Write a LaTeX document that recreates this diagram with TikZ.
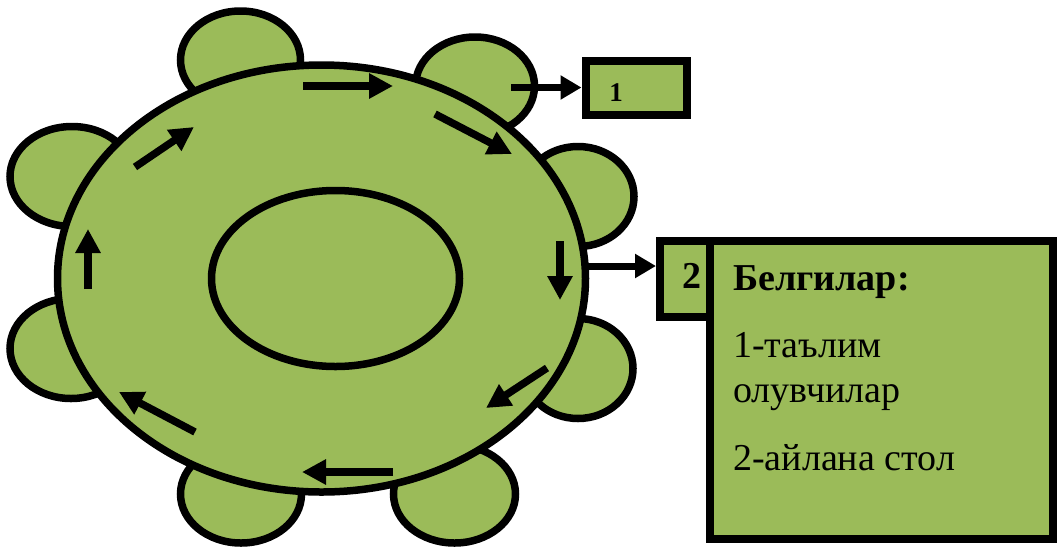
\documentclass[tikz,border=0pt]{standalone}
\usepackage{fontspec}
\setmainfont{Liberation Serif}
\usetikzlibrary{arrows.meta,shapes.geometric}
\definecolor{tgreen}{RGB}{155,187,89}
\begin{document}
\begin{tikzpicture}[x=1pt,y=-1pt,
  seat/.style={ellipse,draw=black,fill=tgreen,line width=7.5pt,inner sep=0pt},
  flow/.style={line width=7.5pt,-{Triangle[length=24pt,width=24pt]}},
  conn/.style={line width=7pt,-{Triangle[length=21pt,width=23pt]}},
  legbox/.style={rectangle,draw=black,fill=tgreen,line width=8pt,inner sep=0pt},
  txt/.style={font=\fontsize{38}{45}\selectfont,anchor=base west,inner sep=0pt}]
\useasboundingbox (0,0) rectangle (1057,547);
% chairs
\node[seat,minimum width=120,minimum height=98] (c1) at (240.5,60) {};
\node[seat,minimum width=119,minimum height=98] (c2) at (475,86) {};
\node[seat,minimum width=112,minimum height=100] (c3) at (578,196.5) {};
\node[seat,minimum width=110,minimum height=100] (c4) at (578,368.5) {};
\node[seat,minimum width=122,minimum height=98] (c5) at (454.5,494) {};
\node[seat,minimum width=121,minimum height=98] (c6) at (241,494) {};
\node[seat,minimum width=122,minimum height=100] (c7) at (71,348.5) {};
\node[seat,minimum width=124,minimum height=100] (c8) at (72,176.5) {};
% table
\node[seat,minimum width=528,minimum height=427] (table) at (321.5,278.5) {};
\node[seat,minimum width=248,minimum height=176] (inner) at (335.5,278.5) {};
% flow arrows
\coordinate (a1s) at (303,86);  \coordinate (a1e) at (393,86);
\coordinate (a2s) at (435,114); \coordinate (a2e) at (512,154);
\coordinate (a3s) at (560,241); \coordinate (a3e) at (560,300);
\coordinate (a4s) at (547,368); \coordinate (a4e) at (486,408);
\coordinate (a5s) at (393,472); \coordinate (a5e) at (302,472);
\coordinate (a6s) at (195,432); \coordinate (a6e) at (119,392);
\coordinate (a7s) at (88,289);  \coordinate (a7e) at (88,229);
\coordinate (a8s) at (135,167); \coordinate (a8e) at (194,127);
\foreach \i in {1,...,8} {\draw[flow] (a\i s) -- (a\i e);}
% legend boxes
\node[legbox,minimum width=101,minimum height=54] (box1) at (636,87.5) {};
\node[font=\bfseries\fontsize{27}{27}\selectfont,inner sep=0pt,anchor=base] (n1) at (616,101) {1};
\node[legbox,minimum width=343,minimum height=298] (legend) at (881.5,390) {};
\node[legbox,minimum width=50,minimum height=76] (box2) at (685,279) {};
\node[font=\bfseries\fontsize{38}{38}\selectfont,inner sep=0pt,anchor=base] (n2) at (691.5,288) {2};
\node[txt,font=\bfseries\fontsize{38}{45}\selectfont] (t1) at (733,290) {Белгилар:};
\node[txt] (t2) at (733,357) {1-таълим};
\node[txt] (t3) at (733,402) {олувчилар};
\node[txt] (t4) at (733,470) {2-айлана стол};
% connectors
\coordinate (s1) at (511,87.5);
\coordinate (s2) at (588,266);
\draw[conn] (s1) -- (box1.west);
\draw[conn] (s2) -- (s2 -| box2.west);
\end{tikzpicture}
\end{document}
